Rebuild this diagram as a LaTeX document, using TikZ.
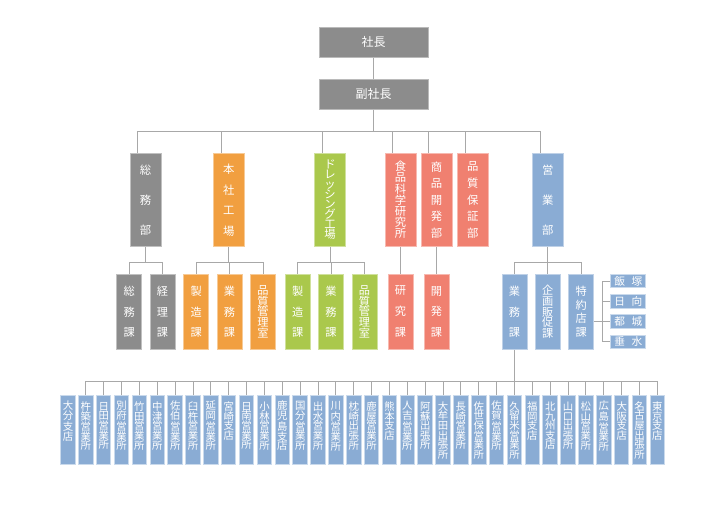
\documentclass[tikz,border=0pt]{standalone}
\usepackage{fontspec}
\setmainfont{Noto Sans CJK JP}

\definecolor{boxgray}{RGB}{140,140,140}
\definecolor{boxorange}{RGB}{241,159,64}
\definecolor{boxgreen}{RGB}{170,200,76}
\definecolor{boxsalmon}{RGB}{240,128,112}
\definecolor{boxblue}{RGB}{138,172,212}
\definecolor{linegray}{RGB}{168,168,168}

\tikzset{every picture/.style={line width=0.75pt}}
\tikzset{
  topbox/.style={fill=boxgray, draw=boxgray!60!white, text=white, minimum width=81.75pt, minimum height=22.5pt, inner sep=0pt, font=\fontsize{9}{10}\selectfont},
  dept/.style 2 args={fill=#1, draw=#1!55!white, text=white, minimum width=23.25pt, minimum height=70pt, inner sep=0pt, align=center, font=\fontsize{8.5}{#2}\selectfont},
  kabox/.style 2 args={fill=#1, draw=#1!55!white, text=white, minimum width=18.75pt, minimum height=56.25pt, inner sep=0pt, align=center, font=\fontsize{8.4}{#2}\selectfont},
  tenpo/.style={fill=boxblue, draw=boxblue!45!white, text=white, minimum width=10.9pt, minimum height=52pt, inner sep=0pt, align=center, font=\fontsize{7.8}{7.2}\selectfont},
  tokuyakuten/.style={fill=boxblue, draw=boxblue!45!white, text=white, minimum width=26pt, minimum height=10.1pt, inner sep=0pt, font=\fontsize{8}{8}\selectfont},
  conn/.style={draw=linegray}
}

\begin{document}
\begin{tikzpicture}[x=0.75pt,y=0.75pt,yscale=-1,xscale=1]
\useasboundingbox (0,0) rectangle (725,504);

%Shape: Rectangle (top)
\draw (373.5,42) node [topbox] (shacho) {社長};
\draw (373.5,94) node [topbox] (fukushacho) {副社長};

%Shape: Rectangle (departments)
\draw (145.5,200) node [dept={boxgray}{22.5pt}] (soumu) {総\\務\\部};
\draw (228.8,200) node [dept={boxorange}{15.4pt}] (honsha) {本\\社\\工\\場};
\draw (330,200) node [dept={boxgreen}{7.5pt}] (dressing) {ド\\レ\\ッ\\シ\\ン\\グ\\工\\場};
\draw (400.5,200) node [dept={boxsalmon}{8.4pt}] (shokuhin) {食\\品\\科\\学\\研\\究\\所};
\draw (436.5,200) node [dept={boxsalmon}{12.4pt}] (shohin) {商\\品\\開\\発\\部};
\draw (472.7,200) node [dept={boxsalmon}{12.4pt}] (hinshitsu) {品\\質\\保\\証\\部};
\draw (547.8,200) node [dept={boxblue}{22.5pt}] (eigyo) {営\\業\\部};

%Shape: Rectangle (sections)
\draw (129.2,311.8) node [kabox={boxgray}{15.6pt}] (soumuka) {総\\務\\課};
\draw (162.5,311.8) node [kabox={boxgray}{15.6pt}] (keirika) {経\\理\\課};
\draw (196.2,311.8) node [kabox={boxorange}{15.6pt}] (h_seizo) {製\\造\\課};
\draw (229.5,311.8) node [kabox={boxorange}{15.6pt}] (h_gyomu) {業\\務\\課};
\draw (263,311.8) node [kabox={boxorange}{7.95pt}] (h_hinkan) {品\\質\\管\\理\\室};
\draw (297.7,311.8) node [kabox={boxgreen}{15.6pt}] (d_seizo) {製\\造\\課};
\draw (331,311.8) node [kabox={boxgreen}{15.6pt}] (d_gyomu) {業\\務\\課};
\draw (364.5,311.8) node [kabox={boxgreen}{7.95pt}] (d_hinkan) {品\\質\\管\\理\\室};
\draw (400.5,311.8) node [kabox={boxsalmon}{15.6pt}] (kenkyu) {研\\究\\課};
\draw (436.5,311.8) node [kabox={boxsalmon}{15.6pt}] (kaihatsu) {開\\発\\課};
\draw (514.5,311.8) node [kabox={boxblue}{15.6pt}] (e_gyomu) {業\\務\\課};
\draw (547.8,311.8) node [kabox={boxblue}{7.95pt}] (kikaku) {企\\画\\販\\促\\課};
\draw (581.1,311.8) node [kabox={boxblue}{10.25pt}] (tokuyaku) {特\\約\\店\\課};

%Shape: Rectangle (special stores)
\draw (628.3,281) node [tokuyakuten] (iizuka) {飯\hspace{5pt}塚};
\draw (628.3,301.5) node [tokuyakuten] (hyuga) {日\hspace{5pt}向};
\draw (628.3,321.7) node [tokuyakuten] (miyakonojo) {都\hspace{5pt}城};
\draw (628.3,341.8) node [tokuyakuten] (tarumizu) {垂\hspace{5pt}水};

% Text Node (branches)
\draw (68,430.3) node [tenpo] (oita) {大\\分\\支\\店\\{}\\{}};
\draw (85.9,430.3) node [tenpo] (kitsuki) {杵\\築\\営\\業\\所\\{}};
\draw (103.7,430.3) node [tenpo] (hita) {日\\田\\営\\業\\所\\{}};
\draw (121.6,430.3) node [tenpo] (beppu) {別\\府\\営\\業\\所\\{}};
\draw (139.4,430.3) node [tenpo] (taketa) {竹\\田\\営\\業\\所\\{}};
\draw (157.3,430.3) node [tenpo] (nakatsu) {中\\津\\営\\業\\所\\{}};
\draw (175.2,430.3) node [tenpo] (saiki) {佐\\伯\\営\\業\\所\\{}};
\draw (193,430.3) node [tenpo] (usuki) {臼\\杵\\営\\業\\所\\{}};
\draw (210.9,430.3) node [tenpo] (nobeoka) {延\\岡\\営\\業\\所\\{}};
\draw (228.7,430.3) node [tenpo] (miyazaki) {宮\\崎\\支\\店\\{}\\{}};
\draw (246.6,430.3) node [tenpo] (nichinan) {日\\南\\営\\業\\所\\{}};
\draw (264.5,430.3) node [tenpo] (kobayashi) {小\\林\\営\\業\\所\\{}};
\draw (282.3,430.3) node [tenpo] (kagoshima) {鹿\\児\\島\\支\\店\\{}};
\draw (300.2,430.3) node [tenpo] (kokubu) {国\\分\\営\\業\\所\\{}};
\draw (318,430.3) node [tenpo] (izumi) {出\\水\\営\\業\\所\\{}};
\draw (335.9,430.3) node [tenpo] (sendai) {川\\内\\営\\業\\所\\{}};
\draw (353.8,430.3) node [tenpo] (makurazaki) {枕\\崎\\出\\張\\所\\{}};
\draw (371.6,430.3) node [tenpo] (kanoya) {鹿\\屋\\営\\業\\所\\{}};
\draw (389.5,430.3) node [tenpo] (kumamoto) {熊\\本\\支\\店\\{}\\{}};
\draw (407.3,430.3) node [tenpo] (hitoyoshi) {人\\吉\\営\\業\\所\\{}};
\draw (425.2,430.3) node [tenpo] (aso) {阿\\蘇\\出\\張\\所\\{}};
\draw (443.1,430.3) node [tenpo] (omuta) {大\\牟\\田\\出\\張\\所};
\draw (460.9,430.3) node [tenpo] (nagasaki) {長\\崎\\営\\業\\所\\{}};
\draw (478.8,430.3) node [tenpo] (sasebo) {佐\\世\\保\\営\\業\\所};
\draw (496.6,430.3) node [tenpo] (saga) {佐\\賀\\営\\業\\所\\{}};
\draw (514.5,430.3) node [tenpo] (kurume) {久\\留\\米\\営\\業\\所};
\draw (532.4,430.3) node [tenpo] (fukuoka) {福\\岡\\支\\店\\{}\\{}};
\draw (550.2,430.3) node [tenpo] (kitakyushu) {北\\九\\州\\支\\店\\{}};
\draw (568.1,430.3) node [tenpo] (yamaguchi) {山\\口\\出\\張\\所\\{}};
\draw (585.9,430.3) node [tenpo] (matsuyama) {松\\山\\営\\業\\所\\{}};
\draw (603.8,430.3) node [tenpo] (hiroshima) {広\\島\\営\\業\\所\\{}};
\draw (621.7,430.3) node [tenpo] (osaka) {大\\阪\\支\\店\\{}\\{}};
\draw (639.5,430.3) node [tenpo] (nagoya) {名\\古\\屋\\出\\張\\所};
\draw (657.4,430.3) node [tenpo] (tokyo) {東\\京\\支\\店\\{}\\{}};

%Straight Lines (president to departments)
\draw [conn] (shacho) -- (fukushacho);
\draw [conn] (fukushacho.south) -- ++(0,22) coordinate (b_top);
\draw [conn] ([xshift=6.3pt]soumu.north west) |- (b_top);
\draw [conn] ([xshift=6.3pt]honsha.north west) |- (b_top);
\draw [conn] ([xshift=6.3pt]dressing.north west) |- (b_top);
\draw [conn] ([xshift=6.3pt]shokuhin.north west) |- (b_top);
\draw [conn] ([xshift=6.3pt]shohin.north west) |- (b_top);
\draw [conn] ([xshift=6.3pt]hinshitsu.north west) |- (b_top);
\draw [conn] ([xshift=6.3pt]eigyo.north west) |- (b_top);

%Straight Lines (departments to sections)
\draw [conn] (soumu.south) -- ++(0,15) coordinate (b_soumu);
\draw [conn] (soumuka.north) |- (b_soumu) (keirika.north) |- (b_soumu);
\draw [conn] (honsha.south) -- ++(0,15) coordinate (b_honsha);
\draw [conn] (h_seizo.north) |- (b_honsha) (h_gyomu.north) |- (b_honsha) (h_hinkan.north) |- (b_honsha);
\draw [conn] (dressing.south) -- ++(0,15) coordinate (b_dressing);
\draw [conn] (d_seizo.north) |- (b_dressing) (d_gyomu.north) |- (b_dressing) (d_hinkan.north) |- (b_dressing);
\draw [conn] (shokuhin) -- (kenkyu);
\draw [conn] (shohin) -- (kaihatsu);
\draw [conn] (eigyo.south) -- ++(0,15) coordinate (b_eigyo);
\draw [conn] (e_gyomu.north) |- (b_eigyo) (kikaku.north) |- (b_eigyo) (tokuyaku.north) |- (b_eigyo);

%Straight Lines (special stores)
\draw [conn] (iizuka.west) -- ++(-7.7,0) coordinate (b_toku) -- (b_toku |- tarumizu.west) -- (tarumizu.west);
\draw [conn] (hyuga.west) -- (hyuga.west -| b_toku);
\draw [conn] (tokuyaku.east |- miyakonojo.west) -- (miyakonojo.west);

%Straight Lines (sales section to branches)
\draw [conn] (e_gyomu.south) -- ++(0,31.7) coordinate (b_shiten);
\draw [conn] (kitsuki.north) |- (b_shiten) (hita.north) |- (b_shiten) (beppu.north) |- (b_shiten)
  (taketa.north) |- (b_shiten) (nakatsu.north) |- (b_shiten) (saiki.north) |- (b_shiten)
  (usuki.north) |- (b_shiten) (nobeoka.north) |- (b_shiten) (miyazaki.north) |- (b_shiten)
  (nichinan.north) |- (b_shiten) (kobayashi.north) |- (b_shiten) (kagoshima.north) |- (b_shiten)
  (kokubu.north) |- (b_shiten) (izumi.north) |- (b_shiten) (sendai.north) |- (b_shiten)
  (makurazaki.north) |- (b_shiten) (kanoya.north) |- (b_shiten) (kumamoto.north) |- (b_shiten)
  (hitoyoshi.north) |- (b_shiten) (aso.north) |- (b_shiten) (omuta.north) |- (b_shiten)
  (nagasaki.north) |- (b_shiten) (sasebo.north) |- (b_shiten) (saga.north) |- (b_shiten)
  (kurume.north) |- (b_shiten) (fukuoka.north) |- (b_shiten) (kitakyushu.north) |- (b_shiten)
  (yamaguchi.north) |- (b_shiten) (matsuyama.north) |- (b_shiten) (hiroshima.north) |- (b_shiten)
  (osaka.north) |- (b_shiten) (nagoya.north) |- (b_shiten) (tokyo.north) |- (b_shiten);

\end{tikzpicture}
\end{document}
